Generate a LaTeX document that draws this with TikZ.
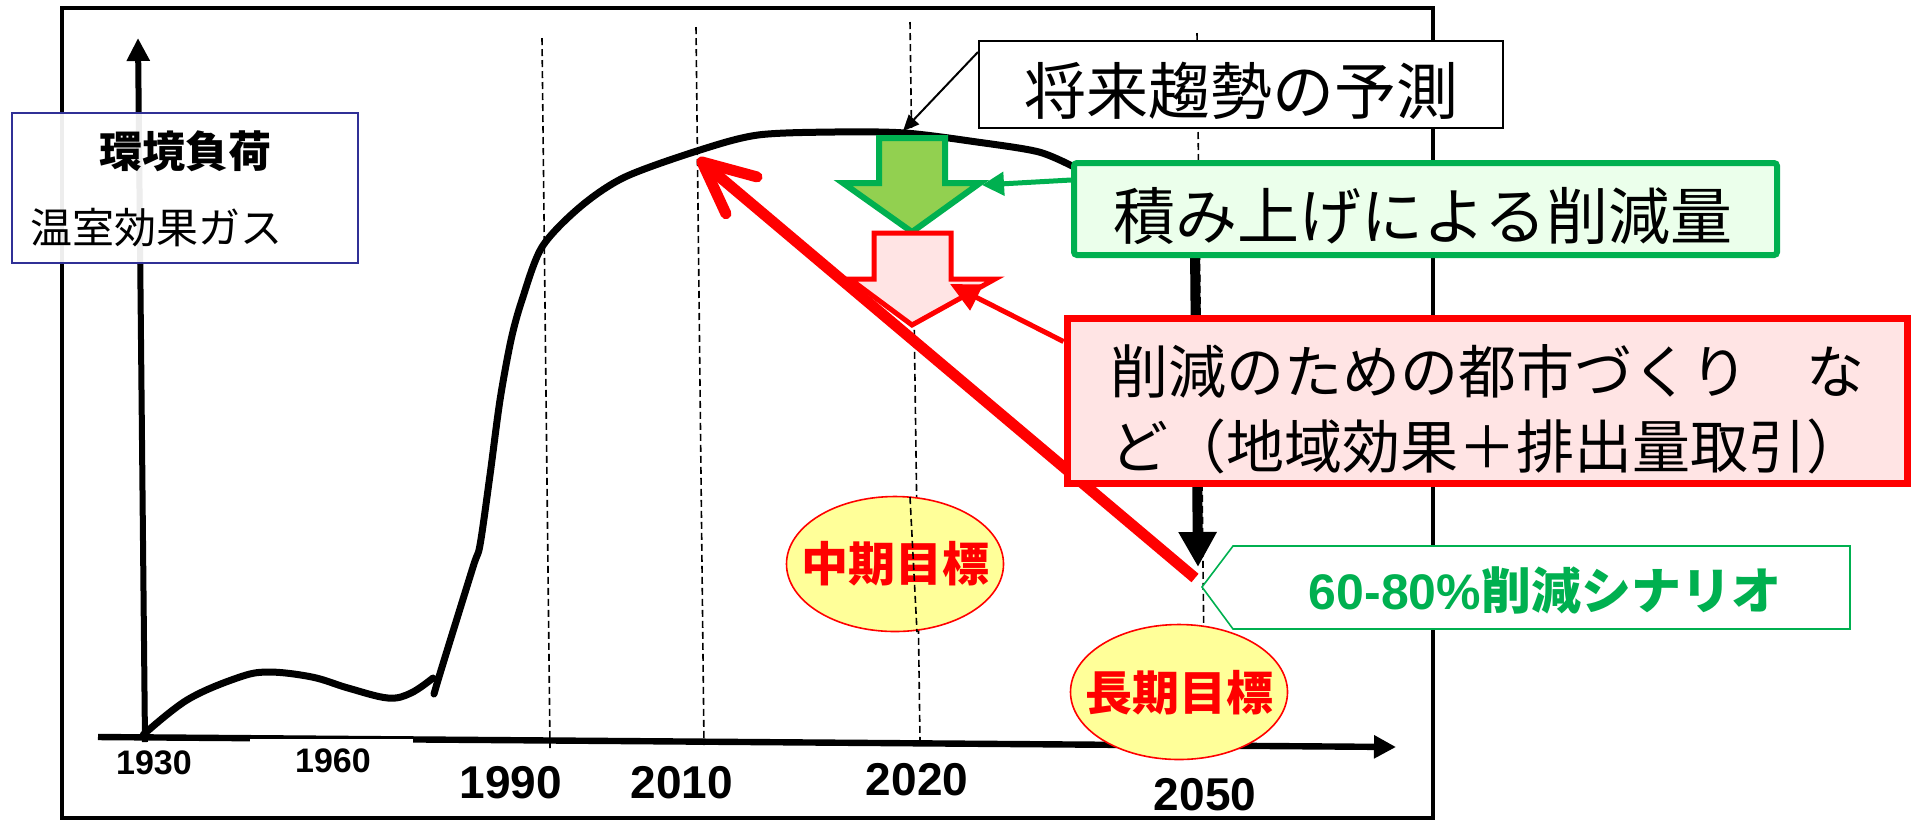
\documentclass[tikz,border=0pt]{standalone}
\usepackage{fontspec}
\setmainfont{Liberation Sans}
\newfontfamily\jp{Noto Sans CJK JP}
\usetikzlibrary{arrows.meta,calc,shapes.geometric}
\definecolor{pgreen}{RGB}{0,176,80}
\definecolor{lgreen}{RGB}{146,208,80}
\definecolor{mint}{RGB}{235,255,235}
\definecolor{pinkfill}{RGB}{255,228,228}
\definecolor{lyellow}{RGB}{255,255,153}
\definecolor{navy}{RGB}{48,48,150}
\begin{document}
\begin{tikzpicture}[x=0.5pt,y=-0.5pt,
  guide/.style={dash pattern=on 3.5pt off 2pt, line width=0.8pt},
  yearsmall/.style={font=\bfseries\fontsize{17}{17}\selectfont},
  yearbig/.style={font=\bfseries\fontsize{23}{23}\selectfont},
  curvestyle/.style={line width=3.5pt, line cap=round, line join=round},
  jpbig/.style={font=\jp\fontsize{31}{31}\selectfont},
  goal/.style={ellipse, draw=red, line width=0.8pt, fill=lyellow, minimum width=108.5pt, minimum height=67.5pt, inner sep=0pt},
  goaltext/.style={text=red, font=\jp\bfseries\fontsize{23.5}{23.5}\selectfont}]
\useasboundingbox (0,0) rectangle (1914,821);
% frame
\draw[line width=2.2pt] (62,8) rectangle (1433,818);
% guides
\coordinate (g1990t) at (542,38);  \coordinate (g1990b) at (550,748);
\coordinate (g2010t) at (696,27);  \coordinate (g2010b) at (704,745);
\coordinate (g2020t) at (910,22);  \coordinate (g2020b) at (920,742);
\coordinate (g2050t) at (1197,33); \coordinate (g2050b) at (1205,745);
\draw[guide] (g1990t) -- (g1990b);
\draw[guide] (g2010t) -- (g2010b);
\draw[guide] (g2020t) -- (g2020b);
\draw[guide] (g2050t) -- (g2050b);
% axes
\coordinate (origin) at (145,742);
\coordinate (ytip) at (138,38);
\coordinate (xstart) at (98,737);
\coordinate (xtip) at (1396,747);
\draw[line width=3pt, -{Triangle[length=11.5pt,width=11pt]}] (origin) -- (ytip);
\draw[line width=3.2pt, -{Triangle[length=11pt,width=11pt]}] (xstart) -- (xtip);
\fill[white] (250,739) rectangle (413,760);
% year labels
\node[yearsmall] (y1930) at (154,763) {1930};
\node[yearsmall] (y1960) at (333,761) {1960};
\node[yearbig] (y1990) at (511,783) {1990};
\node[yearbig] (y2010) at (682,783) {2010};
\node[yearbig] (y2020) at (917,780) {2020};
\node[yearbig] (y2050) at (1205,795) {2050};
% curve
\draw[curvestyle] plot[smooth, tension=0.6] coordinates {(143,735) (187,700) (237,678) (268,672) (312,677) (348,688) (388,698) (411,693) (433,678)};
\draw[curvestyle] plot[smooth, tension=0.5] coordinates {(434,694) (442,667) (473,567) (480,545) (490,475) (500,400) (511,340) (522,300) (542,247) (580,207) (625,177) (700,150) (758,135) (834,132) (905,133) (977,142) (1039,152) (1076,168)};
\coordinate (peak) at (903,131);
% red reduction line
\coordinate (rtail) at (1195,578);
\coordinate (rtip) at (702,162);
\draw[red, line width=5.5pt] (rtail) -- (rtip);
\draw[red, line width=5.5pt, line cap=round, line join=round] ($(rtip)!28.5pt!25:(rtail)$) -- (rtip) -- ($(rtip)!28.5pt!-25:(rtail)$);
% thick black arrow
\coordinate (bstart) at (1195,250);
\coordinate (btip) at (1198,567);
\draw[line width=5pt, -{Triangle[length=17.5pt,width=18pt]}] (bstart) -- (btip);
% block arrows
\draw[pgreen, line width=3pt, fill=lgreen] (879,138) -- (945,138) -- (945,183) -- (980,183) -- (912,232) -- (843,183) -- (879,183) -- cycle;
\draw[red, line width=2.5pt, fill=pinkfill] (874,233) -- (951,233) -- (951,279) -- (995,279) -- (912,325) -- (850,279) -- (874,279) -- cycle;
\coordinate (gtip) at (982,185);
\coordinate (ptip) at (950,284);
% boxes
\node[draw, line width=1pt, fill=white, minimum width=262pt, minimum height=43.5pt, inner sep=0pt] (trend) at (1241,84.5) {};
\node[jpbig] (trendtext) at (1241,91) {将来趨勢の予測};
\node[draw=pgreen, line width=3pt, fill=mint, rounded corners=1.5pt, minimum width=351.5pt, minimum height=46pt, inner sep=0pt] (stack) at (1425.5,209) {};
\node[jpbig] (stacktext) at (1423,216) {積み上げによる削減量};
\node[draw=red, line width=3.5pt, fill=pinkfill, minimum width=420pt, minimum height=82.5pt, inner sep=0pt] (city) at (1487,400.5) {};
\node[font=\jp\fontsize{29}{37.5}\selectfont, align=center, inner sep=0pt] (citytext) at (1487,409.5) {削減のための都市づくり　な\\ど（地域効果＋排出量取引）};
% pointer arrows
\draw[line width=1pt, -{Triangle[length=8pt,width=7pt]}] ([yshift=-6pt]trend.north west) -- (peak);
\draw[pgreen, line width=2.5pt, -{Triangle[length=11pt,width=11.5pt]}] ([yshift=14.5pt]stack.west) -- (gtip);
\draw[red, line width=2.5pt, -{Triangle[length=15pt,width=14pt]}] ([yshift=-13.5pt]city.north west) -- (ptip);
% goals
\node[goal] (mid) at (895,564) {};
\node[goaltext] (midtext) at (mid) {中期目標};
\draw[guide] (910,497) -- (917,632);
\node[goal] (long) at (1179,692) {};
\node[goaltext] (longtext) at (1179,693) {長期目標};
% scenario box
\coordinate (sc1) at (1202,587);
\coordinate (sc2) at (1233,546);
\coordinate (sc3) at (1850,546);
\coordinate (sc4) at (1850,629);
\coordinate (sc5) at (1233,629);
\draw[pgreen, line width=0.8pt, fill=white] (sc1) -- (sc2) -- (sc3) -- (sc4) -- (sc5) -- cycle;
\node[text=pgreen, font=\bfseries\fontsize{25}{25}\selectfont] (scen) at (1545,590) {60-80\%{\jp\bfseries 削減シナリオ}};
% legend box
\node[draw=navy, line width=1.3pt, fill=white, fill opacity=0.93, minimum width=173pt, minimum height=75pt, inner sep=0pt] (legend) at (185,188) {};
\node[font=\jp\bfseries\fontsize{21.5}{21.5}\selectfont] (legend1) at (185,151) {環境負荷};
\node[font=\jp\fontsize{21}{21}\selectfont] (legend2) at (156,228) {温室効果ガス};
\end{tikzpicture}
\end{document}
